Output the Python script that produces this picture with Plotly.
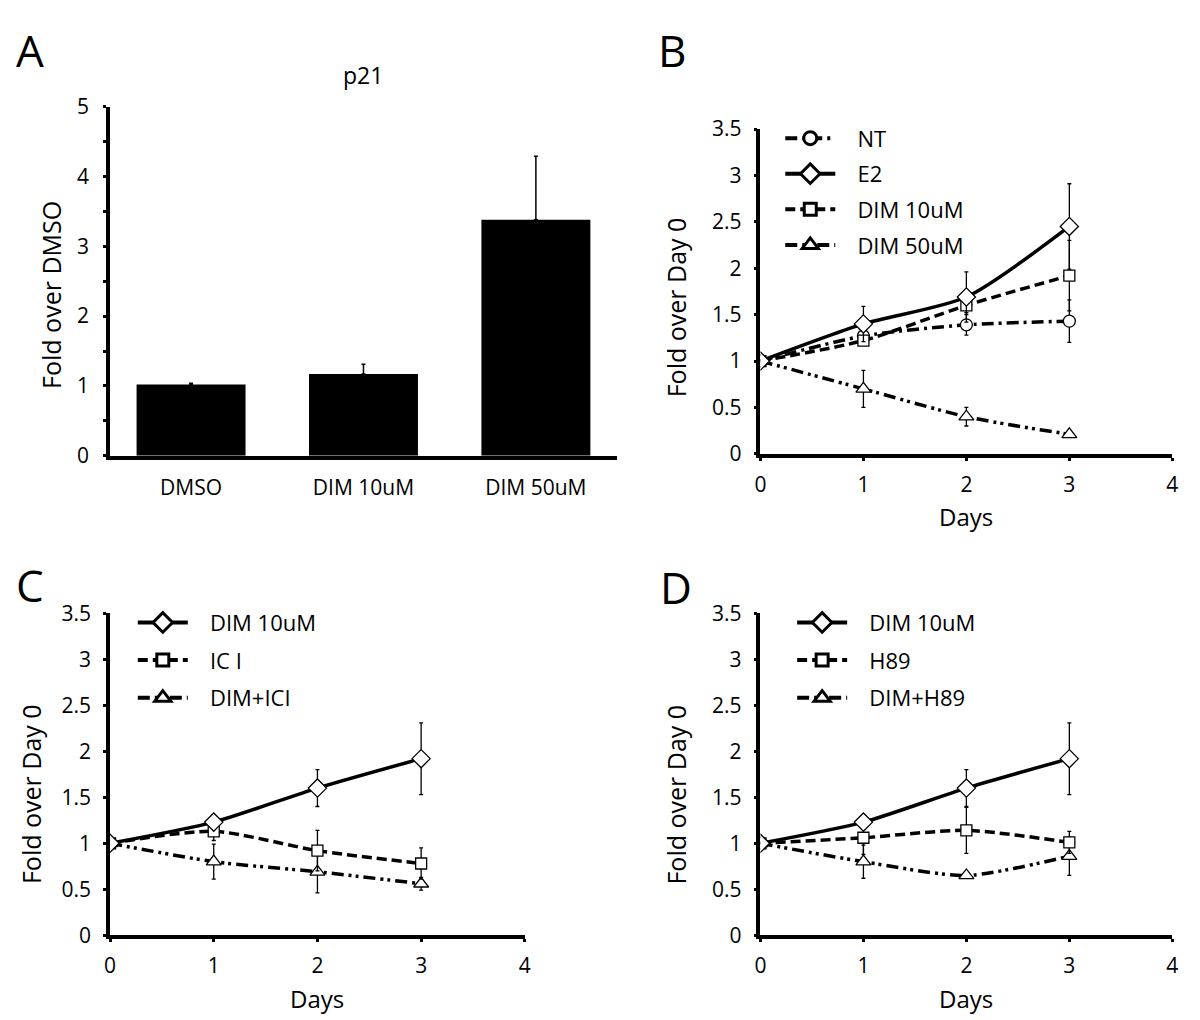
import plotly.graph_objects as go

W, H = 1200, 1020
FONT = "Open Sans"

# ---------------- data ----------------
bar_categories = ["DMSO", "DIM 10uM", "DIM 50uM"]
bar_values = [1.02, 1.17, 3.38]
bar_errors = [0.02, 0.14, 0.91]

days = [0, 1, 2, 3]

b_nt = [1.0, 1.27, 1.39, 1.43]
b_nt_err = [0.0, 0.06, 0.11, 0.23]
b_e2 = [1.0, 1.40, 1.69, 2.45]
b_e2_err = [0.0, 0.19, 0.27, 0.46]
b_dim10 = [1.0, 1.22, 1.60, 1.92]
b_dim10_err = [0.0, 0.05, 0.08, 0.38]
b_dim50 = [1.0, 0.70, 0.40, 0.21]
b_dim50_err = [0.0, 0.20, 0.10, 0.02]

c_dim10 = [1.0, 1.23, 1.60, 1.92]
c_dim10_err = [0.0, 0.03, 0.20, 0.39]
c_ici = [1.0, 1.13, 0.92, 0.78]
c_ici_err = [0.0, 0.10, 0.22, 0.17]
c_dimici = [1.0, 0.80, 0.69, 0.56]
c_dimici_err = [0.0, 0.19, 0.23, 0.07]

d_dim10 = [1.0, 1.23, 1.60, 1.92]
d_dim10_err = [0.0, 0.03, 0.20, 0.39]
d_h89 = [1.0, 1.06, 1.14, 1.01]
d_h89_err = [0.0, 0.18, 0.25, 0.12]
d_dimh89 = [1.0, 0.80, 0.65, 0.86]
d_dimh89_err = [0.0, 0.18, 0.03, 0.21]

y_ticks_line = [0, 0.5, 1, 1.5, 2, 2.5, 3, 3.5]
y_ticklabels_line = ["0", "0.5", "1", "1.5", "2", "2.5", "3", "3.5"]
x_ticks_line = [0, 1, 2, 3, 4]
y_ticks_bar = [0, 1, 2, 3, 4, 5]

# ---------------- helpers ----------------
def px(x):
    return x / W

def py(y):
    return 1 - y / H

SOLID = "solid"
DASH = "10px,5px"
DASHDOT = "12px,5px,3px,5px"
DASHDOTDOT = "12px,5px,3px,4px,3px,5px"
PAD = "\u00a0\u00a0\u00a0"

LEGEND_ORDER = {"legend": ["NT", "E2", "DIM 10uM", "DIM 50uM"],
                "legend2": ["DIM 10uM", "IC I", "DIM+ICI"],
                "legend3": ["DIM 10uM", "H89", "DIM+H89"]}

fig = go.Figure()

# Panel A bars
fig.add_trace(go.Bar(
    x=bar_categories, y=bar_values,
    marker=dict(color="black", line=dict(width=0)),
    error_y=dict(type="data", array=bar_errors, arrayminus=[0, 0, 0],
                 symmetric=False, color="black", thickness=1.5, width=2),
    showlegend=False, xaxis="x", yaxis="y", width=0.632,
))

def add_series(x, y, err, sym, msize, dash, name, xa, ya, legend):
    fig.add_trace(go.Scatter(
        x=x, y=y, mode="lines+markers",
        line=dict(color="black", width=3.5, dash=dash, shape="spline", smoothing=0.7),
        marker=dict(symbol=sym, size=msize, color="white",
                    line=dict(color="black", width=1.3)),
        error_y=dict(type="data", array=err, color="black", thickness=1.3, width=2),
        showlegend=False, xaxis=xa, yaxis=ya,
    ))
    # legend entry (thicker outlined marker as in reference)
    rank = 100 + LEGEND_ORDER[legend].index(name)
    fig.add_trace(go.Scatter(
        x=[None], y=[None], mode="lines+markers", name=PAD + name,
        line=dict(color="black", width=4, dash=dash),
        marker=dict(symbol=sym, size=msize + 1, color="white",
                    line=dict(color="black", width=3)),
        showlegend=True, legend=legend, legendgroup="%s_%d" % (legend, rank),
        legendrank=rank, xaxis=xa, yaxis=ya,
    ))

# Panel B
add_series(days, b_nt, b_nt_err, "circle", 12, DASHDOT, "NT", "x2", "y2", "legend")
add_series(days, b_dim50, b_dim50_err, "triangle-up", 13, DASHDOTDOT, "DIM 50uM", "x2", "y2", "legend")
add_series(days, b_dim10, b_dim10_err, "square", 11, DASH, "DIM 10uM", "x2", "y2", "legend")
add_series(days, b_e2, b_e2_err, "diamond", 14, SOLID, "E2", "x2", "y2", "legend")

# Panel C
add_series(days, c_dimici, c_dimici_err, "triangle-up", 13, DASHDOTDOT, "DIM+ICI", "x3", "y3", "legend2")
add_series(days, c_ici, c_ici_err, "square", 11, DASH, "IC I", "x3", "y3", "legend2")
add_series(days, c_dim10, c_dim10_err, "diamond", 14, SOLID, "DIM 10uM", "x3", "y3", "legend2")

# Panel D
add_series(days, d_dimh89, d_dimh89_err, "triangle-up", 13, DASHDOTDOT, "DIM+H89", "x4", "y4", "legend3")
add_series(days, d_h89, d_h89_err, "square", 11, DASH, "H89", "x4", "y4", "legend3")
add_series(days, d_dim10, d_dim10_err, "diamond", 14, SOLID, "DIM 10uM", "x4", "y4", "legend3")

tickfont = dict(family=FONT, size=21, color="black")
axis_common = dict(showline=True, linewidth=3.5, linecolor="black", showgrid=False,
                   zeroline=False, tickfont=tickfont, ticks="outside", ticklen=3,
                   tickwidth=2.5, tickcolor="black", fixedrange=True)

layout = dict(
    width=W, height=H, margin=dict(l=0, r=0, t=0, b=0),
    paper_bgcolor="white", plot_bgcolor="white",
    font=dict(family=FONT, color="black"),
    bargap=0.368,
    # Panel A
    xaxis=dict(domain=[px(97), px(609)], range=[-0.47, 2.47], anchor="y",
               type="category", **{**axis_common, "ticks": ""}, ticklabelstandoff=10),
    yaxis=dict(domain=[py(445), py(86)], range=[0, 5], anchor="x",
               tickvals=y_ticks_bar, **axis_common, ticklabelstandoff=10,
               minor=dict(dtick=0.5, ticks="outside", ticklen=3, tickwidth=2.5, tickcolor="black")),
    # Panel B
    xaxis2=dict(domain=[px(754), px(1170)], range=[0, 4], anchor="y2",
                tickvals=x_ticks_line, **axis_common, ticklabelstandoff=6),
    yaxis2=dict(domain=[py(443), py(109)], range=[0, 3.5], anchor="x2",
                tickvals=y_ticks_line, ticktext=y_ticklabels_line, **axis_common, ticklabelstandoff=8),
    # Panel C
    xaxis3=dict(domain=[px(97), px(516)], range=[0, 4], anchor="y3",
                tickvals=x_ticks_line, **axis_common, ticklabelstandoff=6),
    yaxis3=dict(domain=[py(938), py(607)], range=[0, 3.5], anchor="x3",
                tickvals=y_ticks_line, ticktext=y_ticklabels_line, **axis_common, ticklabelstandoff=8),
    # Panel D
    xaxis4=dict(domain=[px(754), px(1170)], range=[0, 4], anchor="y4",
                tickvals=x_ticks_line, **axis_common, ticklabelstandoff=6),
    yaxis4=dict(domain=[py(938), py(607)], range=[0, 3.5], anchor="x4",
                tickvals=y_ticks_line, ticktext=y_ticklabels_line, **axis_common, ticklabelstandoff=8),
)

legend_common = dict(bgcolor="rgba(0,0,0,0)", font=dict(family=FONT, size=22, color="black"),
                     xanchor="left", yanchor="top", itemwidth=50,
                     traceorder="grouped", itemclick=False, itemdoubleclick=False)
layout["legend"] = dict(x=px(774), y=py(97), tracegroupgap=4, **legend_common)
layout["legend2"] = dict(x=px(120), y=py(595), tracegroupgap=6, **legend_common)
layout["legend3"] = dict(x=px(786), y=py(595), tracegroupgap=6, **legend_common)

fig.update_layout(**layout)

def text(x, y, s, size, angle=0):
    fig.add_annotation(x=px(x), y=py(y), xref="paper", yref="paper", text=s,
                       showarrow=False, textangle=angle, xanchor="center", yanchor="middle",
                       font=dict(family=FONT, size=size, color="black"))

# panel letters
text(16, 28, "A", 44)
text(665, 28, "B", 44)
text(16, 578, "C", 44)
text(669, 580, "D", 44)
# titles
text(353, 53, "p21", 23)
text(38, 280, "Fold over DMSO", 25, -90)
text(669, 292, "Fold over Day 0", 25, -90)
text(17, 793, "Fold over Day 0", 25, -90)
text(669, 793, "Fold over Day 0", 25, -90)
text(962, 507, "Days", 24)
text(306, 1003, "Days", 24)
text(962, 1003, "Days", 24)

fig.write_html("out.html")
